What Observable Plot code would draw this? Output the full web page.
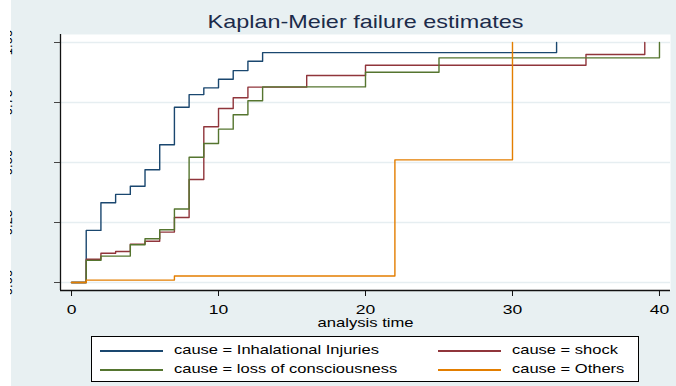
<!DOCTYPE html>
<html>
<head>
<meta charset="utf-8">
<script src="https://cdn.jsdelivr.net/npm/d3@7"></script>
<script src="https://cdn.jsdelivr.net/npm/@observablehq/plot@0.6"></script>
<style>
  body { margin: 0; background: #ffffff; }
  #chart { position: relative; width: 676px; height: 386px; overflow: hidden;
           font-family: "Liberation Sans", Arial, sans-serif; }
  #bg { position: absolute; left: 11px; top: 0; right: 0; bottom: 0; background: #e8f0f2; }
  #chart svg { position: absolute; left: 0; top: 0; }
  #edge { position: absolute; left: 0; top: 0; width: 10px; height: 386px; background: #ffffff; }
  #legend { position: absolute; left: 91px; top: 336px; width: 546px; height: 44px;
            border: 1px solid #000; background: #ffffff; }
  .sw { position: absolute; height: 1.5px; width: 63px; }
  .lb { position: absolute; font-size: 12.7px; line-height: 13px; color: #000;
        transform: scaleX(1.3); transform-origin: 0 50%; white-space: nowrap; }
</style>
</head>
<body>
<div id="chart">
  <div id="bg"></div>
  <div id="legend"></div>
</div>
<script>
// Kaplan-Meier failure estimates by cause of death
const title = "Kaplan-Meier failure estimates";
const xLabel = "analysis time";
const causes = ["Inhalational Injuries", "shock", "loss of consciousness", "Others"];
const colors = ["#1a476f", "#90353b", "#55752f", "#e37e00"];

// step points (time, cumulative failure) per cause
const inhalTime = [0, 1, 2, 3, 4, 5, 6, 7, 8, 9, 10, 11, 12, 13, 33];
const inhalFail = [0, 0.217, 0.332, 0.367, 0.401, 0.47, 0.574, 0.73, 0.783, 0.811, 0.847, 0.883, 0.922, 0.958, 1.0];

const shockTime = [0, 1, 2, 3, 4, 5, 6, 7, 8, 9, 10, 11, 12, 16, 20, 35, 39];
const shockFail = [0, 0.097, 0.122, 0.129, 0.16, 0.172, 0.21, 0.271, 0.429, 0.649, 0.725, 0.77, 0.814, 0.8625, 0.905, 0.95, 1.0];

const locTime = [0, 1, 2, 4, 5, 6, 7, 8, 9, 10, 11, 12, 13, 20, 25, 40];
const locFail = [0, 0.092, 0.11, 0.157, 0.182, 0.22, 0.306, 0.522, 0.579, 0.639, 0.699, 0.757, 0.815, 0.876, 0.936, 1.0];

const otherTime = [0, 1, 7, 22, 30];
const otherFail = [0, 0.01, 0.027, 0.511, 1.0];

const xTicks = [0, 10, 20, 30, 40];
const yTicks = [0, 0.25, 0.5, 0.75, 1];

const series = [
  [causes[0], inhalTime, inhalFail],
  [causes[1], shockTime, shockFail],
  [causes[2], locTime, locFail],
  [causes[3], otherTime, otherFail]
];
const rows = series.flatMap(([cause, ts, fs]) => ts.map((t, i) => ({cause, time: t, fail: fs[i]})));

const xDomain = [-0.75, 40.75];
const yDomain = [-1 / 30, 1 + 1 / 30];
const font = '"Liberation Sans", Arial, sans-serif';

const svg = Plot.plot({
  width: 676,
  height: 386,
  marginLeft: 60,
  marginRight: 6,
  marginTop: 34,
  marginBottom: 96,
  style: {background: "transparent", fontFamily: font, fontSize: "13.5px", color: "#000", overflow: "visible"},
  x: {domain: xDomain},
  y: {domain: yDomain},
  color: {domain: causes, range: colors},
  marks: [
    Plot.frame({fill: "#ffffff", stroke: "none"}),
    Plot.gridY(yTicks, {stroke: "#e6eef1", strokeOpacity: 1, strokeWidth: 1.5}),
    Plot.ruleX([xDomain[0]], {stroke: "#111", strokeWidth: 1.3}),
    Plot.ruleY([yDomain[0]], {stroke: "#111", strokeWidth: 1.3}),
    Plot.axisX(xTicks, {tickSize: 6, tickPadding: 17, label: null, fontSize: 13.5, stroke: "#111"}),
    Plot.axisY(yTicks, {tickSize: 6, tickFormat: () => "", label: null, stroke: "#444"}),
    Plot.text(yTicks, {y: (d) => d, text: (d) => d.toFixed(2), frameAnchor: "left", dx: -49,
      rotate: -90, textAnchor: "middle", lineAnchor: "bottom", fontSize: 13, fill: "#000"}),
    Plot.line(rows, {x: "time", y: "fail", z: "cause", stroke: "cause", curve: "step-after", strokeWidth: 1.4}),
    Plot.text([xLabel], {frameAnchor: "bottom", dy: 36, lineAnchor: "bottom", fontSize: 12.8, fill: "#000"}),
    Plot.text([title], {frameAnchor: "top", dy: -7, lineAnchor: "bottom", fontSize: 18, fill: "#1c2b4a"})
  ]
});

// widen the horizontal text glyphs
const S = 1.3;
for (const t of svg.querySelectorAll("text")) {
  const tr = t.getAttribute("transform") || "";
  if (tr.includes("rotate")) continue;
  const x = +t.getAttribute("x") || 0, y = +t.getAttribute("y") || 0;
  t.removeAttribute("x");
  t.removeAttribute("y");
  t.setAttribute("transform", `${tr} translate(${x},${y}) scale(${S},1)`);
}

const chart = document.getElementById("chart");
chart.insertBefore(svg, document.getElementById("legend"));
const edge = document.createElement("div");
edge.id = "edge";
chart.appendChild(edge);

// legend: two columns, two rows
const legend = document.getElementById("legend");
const slots = [[8, 13], [346, 13], [8, 32], [346, 32]];
causes.forEach((cause, k) => {
  const [lx, ly] = slots[k];
  const sw = document.createElement("div");
  sw.className = "sw";
  sw.style.left = lx + "px";
  sw.style.top = ly + "px";
  sw.style.background = colors[k];
  legend.appendChild(sw);
  const lb = document.createElement("div");
  lb.className = "lb";
  lb.style.left = (lx + 74) + "px";
  lb.style.top = (ly - 6) + "px";
  lb.textContent = "cause = " + cause;
  legend.appendChild(lb);
});
</script>
</body>
</html>
